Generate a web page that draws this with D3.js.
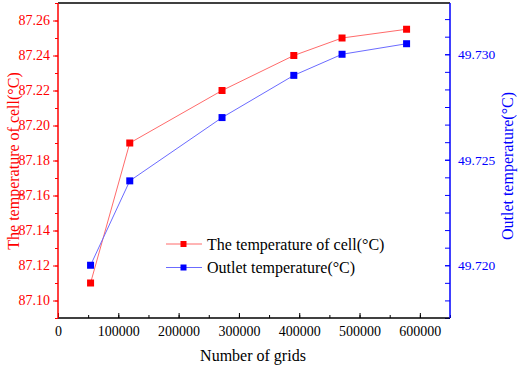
<!DOCTYPE html>
<html>
<head>
<meta charset="utf-8">
<script src="https://cdn.jsdelivr.net/npm/d3@7"></script>
<style>
  body { margin: 0; background: #fff; }
  svg { display: block; }
  svg text { font-family: "Liberation Serif", "Times New Roman", serif; }
</style>
</head>
<body>
<svg id="svg"></svg>
<script>
// data
var grids = [54000, 119000, 272000, 391000, 471000, 578000];
var cellTemp = [87.11, 87.19, 87.22, 87.24, 87.25, 87.255];
var outletTemp = [49.720, 49.724, 49.727, 49.729, 49.730, 49.7305];

var xTicks = [0, 100000, 200000, 300000, 400000, 500000, 600000];
var leftTicks = [87.10, 87.12, 87.14, 87.16, 87.18, 87.20, 87.22, 87.24, 87.26];
var rightTicks = [49.720, 49.725, 49.730];
var seriesNames = ["The temperature of cell(\u00B0C)", "Outlet temperature(\u00B0C)"];

var W = 519, H = 369;
var margin = {left: 58, top: 3, right: 69, bottom: 51};
var width = W - margin.left - margin.right;
var height = H - margin.top - margin.bottom;

var svg = d3.select("#svg").attr("width", W).attr("height", H);
var g = svg.append("g").attr("transform", `translate(${margin.left}, ${margin.top})`);

var xScale = d3.scaleLinear().domain([0, 650000]).range([0, width]);
var yLeft = d3.scaleLinear().domain([87.09, 87.27]).range([height, 0]);
var yRight = d3.scaleLinear().domain([49.7175, 49.73243]).range([height, 0]);

// minor ticks
var xMinor = d3.range(0, 650001, 50000);
var leftMinor = d3.range(0, 19).map(i => 87.09 + i * 0.01);
var rightMinor = d3.range(0, 19).map(i => 49.7175 + i * 0.005 / 6).filter(v => v <= 49.7324);

function styleAxis(sel, color, size) {
    sel.attr("font-family", null);
    sel.select(".domain").remove();
    sel.selectAll("line").attr("stroke", color).attr("stroke-width", 1);
    sel.selectAll("text").attr("fill", color).style("font-size", (size || 14) + "px");
}

// bottom axis (ticks inward)
g.append("g").attr("transform", `translate(0, ${height})`)
    .call(d3.axisBottom(xScale).tickValues(xMinor).tickSize(-3).tickFormat(""))
    .call(s => styleAxis(s, "#000"));
g.append("g").attr("transform", `translate(0, ${height})`)
    .call(d3.axisBottom(xScale).tickValues(xTicks).tickSize(-5).tickPadding(8).tickFormat(d3.format("d")))
    .call(s => styleAxis(s, "#000"));

// left axis (ticks outward)
g.append("g")
    .call(d3.axisLeft(yLeft).tickValues(leftMinor).tickSize(3).tickFormat(""))
    .call(s => styleAxis(s, "red"));
g.append("g")
    .call(d3.axisLeft(yLeft).tickValues(leftTicks).tickSize(5).tickPadding(3).tickFormat(d3.format(".2f")))
    .call(s => styleAxis(s, "red"));

// right axis (ticks inward)
g.append("g").attr("transform", `translate(${width}, 0)`)
    .call(d3.axisRight(yRight).tickValues(rightMinor).tickSize(-5).tickFormat(""))
    .call(s => styleAxis(s, "blue"));
g.append("g").attr("transform", `translate(${width}, 0)`)
    .call(d3.axisRight(yRight).tickValues(rightTicks).tickSize(-5).tickPadding(8).tickFormat(d3.format(".3f")))
    .call(s => styleAxis(s, "blue", 13.5));

// frame
g.append("line").attr("x1", 0).attr("x2", width).attr("y1", 0).attr("y2", 0).attr("stroke", "#000").attr("stroke-width", 1.5);
g.append("line").attr("x1", 0).attr("x2", width).attr("y1", height).attr("y2", height).attr("stroke", "#000").attr("stroke-width", 1.5);
g.append("line").attr("x1", 0).attr("x2", 0).attr("y1", 0).attr("y2", height).attr("stroke", "red").attr("stroke-width", 1.5);
g.append("line").attr("x1", width).attr("x2", width).attr("y1", 0).attr("y2", height).attr("stroke", "blue").attr("stroke-width", 1.5);

// series
var series = [
    {vals: cellTemp, y: yLeft, line: "#ff6b6b", mark: "red"},
    {vals: outletTemp, y: yRight, line: "#6b6bff", mark: "blue"}
];
series.forEach(s => {
    var pts = grids.map((x, i) => [x, s.vals[i]]);
    g.append("path").datum(pts)
        .attr("fill", "none")
        .attr("stroke", s.line)
        .attr("stroke-width", 1)
        .attr("d", d3.line().x(d => xScale(d[0])).y(d => s.y(d[1])));
    g.selectAll(null).data(pts).enter().append("rect")
        .attr("x", d => xScale(d[0]) - 3.5)
        .attr("y", d => s.y(d[1]) - 3.5)
        .attr("width", 7).attr("height", 7)
        .attr("fill", s.mark);
});

// legend
var legend = svg.append("g").attr("transform", "translate(166, 244)");
series.forEach((s, i) => {
    var row = legend.append("g").attr("transform", `translate(0, ${i * 23.5})`);
    row.append("line").attr("x1", 0).attr("x2", 36).attr("y1", 0).attr("y2", 0).attr("stroke", s.line);
    row.append("rect").attr("x", 14.5).attr("y", -3).attr("width", 6).attr("height", 6).attr("fill", s.mark);
    row.append("text").attr("x", 41).attr("y", 5.5).style("font-size", "16px").attr("fill", "#000").text(seriesNames[i]);
});

// axis titles
svg.append("text").attr("x", 253).attr("y", 361).attr("text-anchor", "middle")
    .style("font-size", "16px").text("Number of grids");
svg.append("text").attr("transform", "translate(19, 161) rotate(-90)").attr("text-anchor", "middle")
    .style("font-size", "16px").attr("fill", "red").text(seriesNames[0]);
svg.append("text").attr("transform", "translate(513, 166) rotate(-90)").attr("text-anchor", "middle")
    .style("font-size", "16px").attr("fill", "blue").text(seriesNames[1]);
</script>
</body>
</html>
